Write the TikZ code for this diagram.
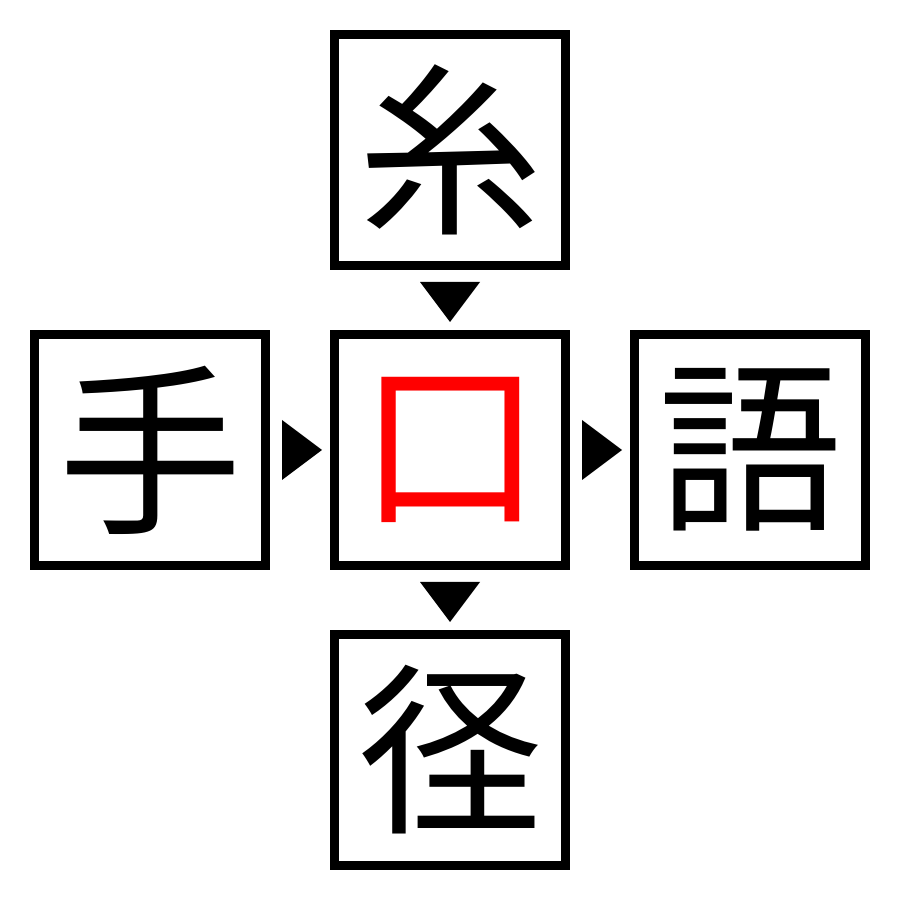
\documentclass[tikz,border=0pt]{standalone}
\usepackage{fontspec}
\newfontfamily\cjk{Noto Sans CJK JP}
\begin{document}
\begin{tikzpicture}[x=0.5pt,y=0.5pt]
\tikzset{kbox/.style={draw=black,line width=4.5pt,minimum size=115.5pt,inner sep=0pt,font=\cjk\fontsize{92pt}{92pt}\selectfont},tri/.style={fill=black}}
\useasboundingbox (0,0) rectangle (900,900);
\node[kbox] (t) at (450,750) {糸};
\node[kbox,text=red] (c) at (450,450) {口};
\node[kbox] (l) at (150,450) {手};
\node[kbox] (r) at (750,450) {語};
\node[kbox] (b) at (450,150) {径};
\fill[tri] (420,618) -- (480,618) -- (450,578) -- cycle;
\fill[tri] (420,318) -- (480,318) -- (450,278) -- cycle;
\fill[tri] (282,480) -- (282,420) -- (322,450) -- cycle;
\fill[tri] (582,480) -- (582,420) -- (622,450) -- cycle;
\end{tikzpicture}
\end{document}
